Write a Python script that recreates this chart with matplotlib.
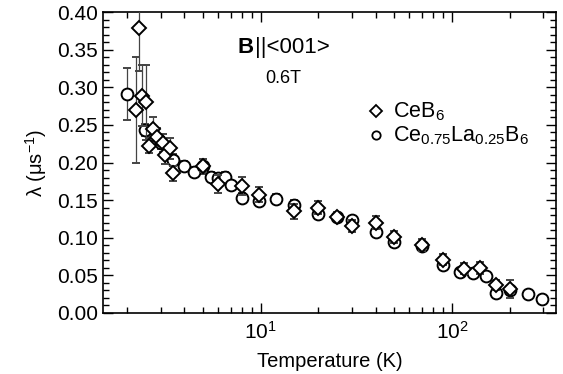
import numpy as np
import matplotlib
matplotlib.use('Agg')
import matplotlib.pyplot as plt
from matplotlib.ticker import MultipleLocator, LogLocator, NullFormatter

plt.rcParams['font.family'] = ['Liberation Sans', 'DejaVu Sans']
plt.rcParams['mathtext.fontset'] = 'custom'
plt.rcParams['mathtext.rm'] = 'Liberation Sans'
plt.rcParams['mathtext.it'] = 'Liberation Sans'
plt.rcParams['mathtext.bf'] = 'Liberation Sans:bold'

# CeB6 (diamonds)
T_ceb6 = [2.22, 2.31, 2.40, 2.51, 2.6, 2.73, 2.88, 3.08, 3.18, 3.34, 3.5,
          5.0, 6.0, 8.0, 9.8, 15, 20, 25, 30, 40, 50, 70, 90, 116, 140, 170, 200]
lam_ceb6 = [0.270, 0.379, 0.289, 0.280, 0.222, 0.244, 0.234, 0.226, 0.210, 0.219, 0.186,
            0.196, 0.171, 0.169, 0.157, 0.135, 0.140, 0.128, 0.116, 0.120, 0.101, 0.090,
            0.071, 0.059, 0.060, 0.037, 0.032]
err_ceb6 = [0.070, 0.058, 0.040, 0.050, 0.010, 0.016, 0.012, 0.012, 0.012, 0.014, 0.010,
            0.008, 0.012, 0.012, 0.010, 0.010, 0.009, 0.006, 0.008, 0.009, 0.008, 0.008,
            0.007, 0.007, 0.008, 0.007, 0.012]

# Ce0.75La0.25B6 (circles)
T_cela = [2.0, 2.5, 3.02, 3.5, 4.0, 4.5, 5.0, 5.5, 6.0, 6.5, 7.0, 8.0, 9.8,
          12, 15, 20, 25, 30, 40, 50, 70, 90, 110, 129, 150, 170, 200, 250, 297]
lam_cela = [0.291, 0.243, 0.226, 0.203, 0.196, 0.188, 0.195, 0.181, 0.179, 0.181, 0.170,
            0.153, 0.149, 0.152, 0.144, 0.131, 0.128, 0.124, 0.108, 0.094, 0.089, 0.064,
            0.054, 0.053, 0.049, 0.027, 0.030, 0.025, 0.019]
err_cela = [0.034, 0.008, 0.008, 0.008, 0.006, 0.006, 0.010, 0.006, 0.006, 0.006, 0.006,
            0.006, 0.006, 0.006, 0.006, 0.006, 0.005, 0.005, 0.006, 0.006, 0.006, 0.006,
            0.005, 0.005, 0.005, 0.005, 0.005, 0.0, 0.0]

fig = plt.figure(figsize=(5.63, 3.74), dpi=100)
ax = fig.add_axes([103/563, 1-313/374, (556-103)/563, (313-12)/374])

ax.errorbar(T_cela, lam_cela, yerr=err_cela, fmt='o', mfc='white', mec='black', mew=1.4,
            ms=8.5, ecolor='#444444', elinewidth=0.9, capsize=3, capthick=0.9, zorder=3)
ax.errorbar(T_ceb6, lam_ceb6, yerr=err_ceb6, fmt='D', mfc='white', mec='black', mew=1.4,
            ms=7.5, ecolor='#444444', elinewidth=0.9, capsize=3, capthick=0.9, zorder=4)

ax.set_xscale('log')
ax.set_xlim(1.5, 350)
ax.set_ylim(0, 0.40)
ax.yaxis.set_major_locator(MultipleLocator(0.05))
ax.yaxis.set_minor_locator(MultipleLocator(0.01))
ax.yaxis.set_major_formatter(matplotlib.ticker.FormatStrFormatter('%.2f'))
ax.xaxis.set_minor_locator(LogLocator(base=10, subs=np.arange(2, 10)))
ax.xaxis.set_minor_formatter(NullFormatter())
ax.tick_params(which='both', direction='in', top=True, right=True, labelsize=15)
ax.tick_params(which='major', length=7, width=1)
ax.tick_params(which='minor', length=4, width=1)
ax.tick_params(axis='x', pad=6)
for s in ax.spines.values():
    s.set_linewidth(1.2)

ax.set_xlabel('Temperature (K)', fontsize=14.5, labelpad=6)
ax.set_ylabel('λ (μs$^{-1}$)', fontsize=14.5, labelpad=6)

# field direction annotation
ax.text(0.298, 0.864, 'B', transform=ax.transAxes, fontsize=16, fontweight='bold')
ax.text(0.335, 0.864, '||<001>', transform=ax.transAxes, fontsize=16)
ax.text(0.358, 0.764, '0.6T', transform=ax.transAxes, fontsize=13)

ax.plot([0.603], [0.67], 'D', mfc='white', mec='black', ms=6.5, mew=1.3, transform=ax.transAxes)
ax.text(0.64, 0.67, r'CeB$_6$', transform=ax.transAxes, fontsize=15.5, va='center')
ax.plot([0.603], [0.59], 'o', mfc='white', mec='black', ms=6, mew=1.3, transform=ax.transAxes)
ax.text(0.64, 0.59, r'Ce$_{0.75}$La$_{0.25}$B$_6$', transform=ax.transAxes, fontsize=15.5, va='center')

fig.savefig('out.png', dpi=100)
